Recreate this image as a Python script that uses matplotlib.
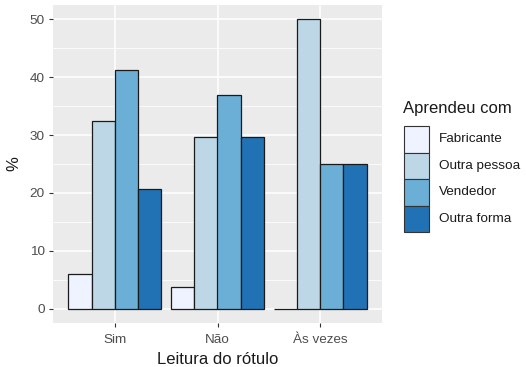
import numpy as np
import matplotlib.pyplot as plt
from matplotlib.patches import Rectangle

plt.rcParams['font.family'] = ['Liberation Sans', 'DejaVu Sans']

# leitura do rótulo x fonte de aprendizado (%)
categorias = ["Sim", "Não", "Às vezes"]
fontes = ["Fabricante", "Outra pessoa", "Vendedor", "Outra forma"]
fabricante = [6.0, 3.7, 0.0]
outra_pessoa = [32.4, 29.6, 50.0]
vendedor = [41.2, 37.0, 25.0]
outra_forma = [20.6, 29.6, 25.0]
cores = ["#EFF3FF", "#BDD7E7", "#6BAED6", "#2171B5"]

series = [fabricante, outra_pessoa, vendedor, outra_forma]

W, H = 526, 367
fig = plt.figure(figsize=(W / 100, H / 100), dpi=100)
ax = fig.add_axes([53 / W, 1 - 323 / H, 329 / W, 318 / H])
ax.set_facecolor("#EBEBEB")

x = np.arange(1, len(categorias) + 1)
w = 0.9 / len(series)
for i, (vals, nome, cor) in enumerate(zip(series, fontes, cores)):
    ax.bar(x - 0.45 + w * (i + 0.5), vals, width=w, color=cor,
           edgecolor="#1a1a1a", linewidth=0.9, label=nome, zorder=3)

ax.set_xlim(0.4, 3.6)
ax.set_ylim(-2.5, 52.5)
ax.set_xticks(x)
ax.set_xticklabels(categorias)
ax.set_yticks(range(0, 51, 10))
ax.set_yticks(range(5, 50, 10), minor=True)
ax.grid(which="major", color="white", lw=1.1, zorder=0)
ax.grid(which="minor", axis="y", color="white", lw=0.55, zorder=0)
ax.tick_params(which="major", colors="#333333", labelcolor="#4D4D4D",
               labelsize=9.7, length=3, width=0.8, pad=3)
ax.tick_params(axis="x", pad=5)
ax.tick_params(which="minor", length=0)
for s in ax.spines.values():
    s.set_visible(False)

ax.set_xlabel("Leitura do rótulo", fontsize=12, color="#1a1a1a", labelpad=4)
ax.set_ylabel("%", fontsize=12, color="#1a1a1a", labelpad=6)

# legenda desenhada à mão (estilo ggplot)
kx, ky, kw, kh = 404, 126, 25, 26.5
fig.text(403 / W, 1 - 109 / H, "Aprendeu com", fontsize=12,
         color="#1a1a1a", va="center", ha="left")
for i, (nome, cor) in enumerate(zip(fontes, cores)):
    top = ky + i * kh
    fig.add_artist(Rectangle((kx / W, 1 - (top + kh) / H), kw / W, kh / H,
                             transform=fig.transFigure, facecolor=cor,
                             edgecolor="#333333", linewidth=0.8))
    fig.text(439 / W, 1 - (top + kh / 2) / H, nome, fontsize=9.7,
             color="#1a1a1a", va="center", ha="left")

fig.savefig("out.png", dpi=100)
